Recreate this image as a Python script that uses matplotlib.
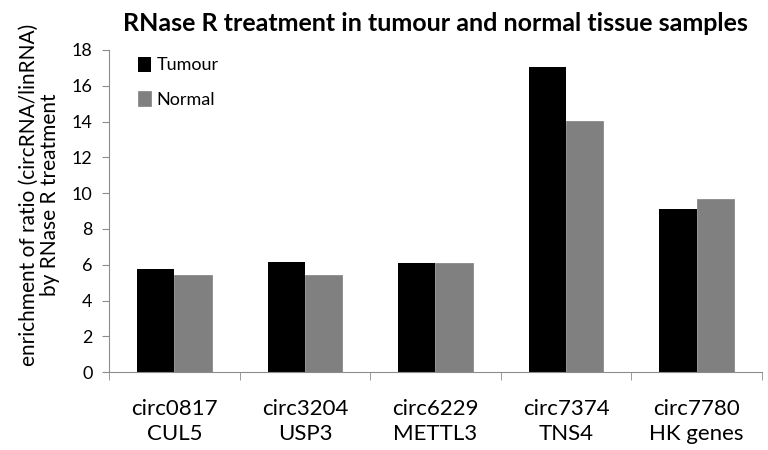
import numpy as np
import matplotlib.pyplot as plt

# data
circ_ids = ["circ0817", "circ3204", "circ6229", "circ7374", "circ7780"]
genes = ["CUL5", "USP3", "METTL3", "TNS4", "HK genes"]
tumour = [5.75, 6.15, 6.1, 17.05, 9.1]
normal = [5.45, 5.4, 6.1, 14.05, 9.65]
yticks = list(range(0, 19, 2))

plt.rcParams["font.family"] = ["Lato", "DejaVu Sans"]

fig = plt.figure(figsize=(7.68, 4.5), dpi=100)
ax = fig.add_axes([0.142, 0.173, 0.850, 0.716])

x = np.arange(len(circ_ids))
w = 0.285
ax.bar(x - w / 2, tumour, w, color="black", label="Tumour")
ax.bar(x + w / 2, normal, w, color="#808080", edgecolor="#8a8a8a", linewidth=0.6, label="Normal")

ax.set_xlim(-0.5, len(circ_ids) - 0.5)
ax.set_ylim(0, 18)
ax.set_yticks(yticks)
ax.tick_params(axis="y", labelsize=13, color="#8c8c8c", length=5, pad=7)

# category labels, ticks go between the groups
ax.set_xticks(x)
ax.set_xticklabels([c + "\n" + g for c, g in zip(circ_ids, genes)], fontsize=16, linespacing=1.35)
ax.tick_params(axis="x", length=0, pad=19)
ax.set_xticks(np.arange(-0.5, len(circ_ids)), minor=True)
ax.tick_params(axis="x", which="minor", length=6, color="#8c8c8c")

for s in ["top", "right"]:
    ax.spines[s].set_visible(False)
for s in ["left", "bottom"]:
    ax.spines[s].set_color("#8c8c8c")

ax.set_ylabel("enrichment of ratio (circRNA/linRNA)\nby RNase R treatment", fontsize=15, linespacing=1.05)
ax.yaxis.set_label_coords(-0.075, 0.55)
ax.set_title("RNase R treatment in tumour and normal tissue samples", fontsize=18, fontweight="bold", pad=14, x=0.5)

ax.legend(loc="upper left", frameon=False, fontsize=13, handlelength=0.7, handleheight=0.9,
          handletextpad=0.3, labelspacing=1.0, bbox_to_anchor=(0.02, 1.03))

fig.savefig("out.png", dpi=100)
